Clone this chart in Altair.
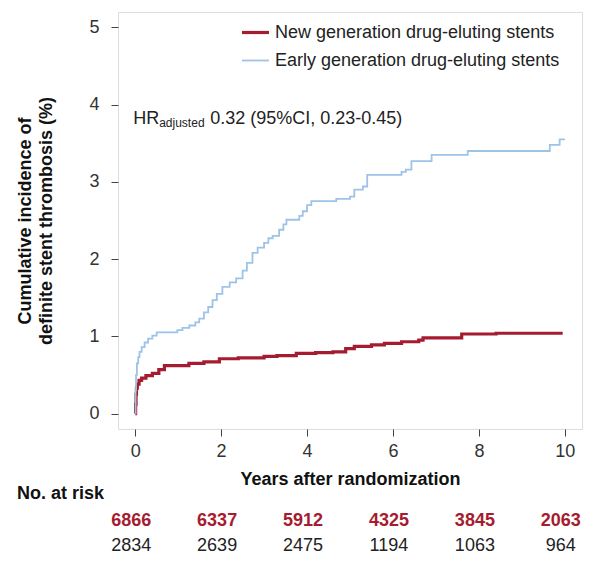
import altair as alt
import pandas as pd

# ---- data ----
groups = ["New generation drug-eluting stents", "Early generation drug-eluting stents"]
colors = ["#A51C30", "#9DC3E6"]

new_x = [0, 0.01, 0.02, 0.03, 0.05, 0.09, 0.15, 0.25, 0.4, 0.55, 0.68, 1.25, 1.6, 1.96, 2.4,
         3.0, 3.3, 3.75, 4.2, 4.6, 4.9, 5.1, 5.5, 5.8, 6.2, 6.6, 6.7, 7.6, 8.4, 9.95]
new_y = [0, 0.12, 0.25, 0.33, 0.38, 0.43, 0.46, 0.49, 0.52, 0.57, 0.62, 0.65, 0.67, 0.71, 0.72,
         0.74, 0.75, 0.78, 0.79, 0.80, 0.84, 0.87, 0.89, 0.91, 0.93, 0.95, 0.98, 1.03, 1.04, 1.04]

early_x = [0, 0.01, 0.02, 0.04, 0.07, 0.1, 0.15, 0.22, 0.3, 0.4, 0.5, 0.98, 1.1, 1.26, 1.4, 1.49,
           1.6, 1.7, 1.8, 1.9, 2.03, 2.2, 2.35, 2.5, 2.6, 2.73, 2.85, 3.0, 3.1, 3.2, 3.35, 3.45,
           3.52, 3.82, 3.9, 4.0, 4.1, 4.68, 5.0, 5.1, 5.3, 5.4, 6.2, 6.3, 6.43, 6.9, 7.74, 9.65,
           9.88, 10.0]
early_y = [0, 0.3, 0.5, 0.65, 0.73, 0.8, 0.86, 0.92, 0.97, 1.01, 1.05, 1.08, 1.11, 1.14, 1.18, 1.23,
           1.31, 1.38, 1.47, 1.55, 1.64, 1.7, 1.75, 1.85, 1.95, 2.08, 2.15, 2.21, 2.27, 2.3, 2.38, 2.45,
           2.51, 2.56, 2.62, 2.7, 2.75, 2.78, 2.81, 2.9, 2.94, 3.09, 3.13, 3.16, 3.27, 3.35, 3.4, 3.48,
           3.55, 3.55]

risk_years = [0, 2, 4, 6, 8, 10]
risk_new = [6866, 6337, 5912, 4325, 3845, 2063]
risk_early = [2834, 2639, 2475, 1194, 1063, 964]

x_ticks = [0, 2, 4, 6, 8, 10]
y_ticks = [0, 1, 2, 3, 4, 5]

hr_text = ["HR", "adjusted", "0.32 (95%CI, 0.23-0.45)"]

# ---- layout constants (positions in data units) ----
HR_X, HR_Y = 0.0, 3.75
ROW_LABEL_X, ROW_LABEL_Y = -2.75, -1.04
ROW_NEW_Y, ROW_EARLY_Y = -1.39, -1.72

FONT = "Liberation Sans"

curves = pd.concat([
    pd.DataFrame({"t": new_x, "inc": new_y, "group": groups[0], "o": range(len(new_x))}),
    pd.DataFrame({"t": early_x, "inc": early_y, "group": groups[1], "o": range(len(early_x))}),
])

xscale = alt.Scale(domain=[-0.4, 10.4], nice=False, zero=False)
yscale = alt.Scale(domain=[-0.2, 5.2], nice=False, zero=False)

legend_props = dict(
    title=None, orient="none", legendX=122, legendY=5, symbolType="stroke",
    symbolSize=729, labelFontSize=18, labelColor="#222", labelFont=FONT,
    labelLimit=0, labelOffset=4, rowPadding=4, padding=0,
)

lines = alt.Chart(curves).mark_line(interpolate="step-after").encode(
    x=alt.X("t:Q", scale=xscale,
            axis=alt.Axis(values=x_ticks, title="Years after randomization", domain=False,
                          grid=False, tickSize=7, tickColor="#444", labelFontSize=18,
                          labelColor="#333", labelPadding=6, labelFont=FONT, format="d",
                          titleFontSize=18, titleFontWeight="bold", titleColor="#111",
                          titlePadding=10, titleFont=FONT, labelFlush=False)),
    y=alt.Y("inc:Q", scale=yscale,
            axis=alt.Axis(values=y_ticks, title=["Cumulative incidence of", "definite stent thrombosis (%)"],
                          domain=False, grid=False, tickSize=7, tickColor="#444", labelFontSize=18,
                          labelColor="#333", labelPadding=12, labelFont=FONT, format="d",
                          titleFontSize=18, titleFontWeight="bold", titleColor="#111",
                          titlePadding=33, titleFont=FONT, titleLineHeight=21)),
    color=alt.Color("group:N", scale=alt.Scale(domain=groups, range=colors),
                    sort=groups, legend=alt.Legend(**legend_props)),
    strokeWidth=alt.StrokeWidth("group:N", scale=alt.Scale(domain=groups, range=[3.2, 1.8]),
                                sort=groups, legend=alt.Legend(**legend_props)),
    order="o:Q",
)

hr_df = pd.DataFrame({"t": [HR_X], "inc": [HR_Y]})
hr_base = alt.Chart(hr_df).encode(x=alt.X("t:Q", scale=xscale), y=alt.Y("inc:Q", scale=yscale))
hr1 = hr_base.mark_text(text=hr_text[0], align="left", baseline="alphabetic", fontSize=18,
                        font=FONT, color="#222", dx=-2)
hr2 = hr_base.mark_text(text=hr_text[1], align="left", baseline="alphabetic", fontSize=12,
                        font=FONT, color="#222", dx=24, dy=3)
hr3 = hr_base.mark_text(text=hr_text[2], align="left", baseline="alphabetic", fontSize=18,
                        font=FONT, color="#222", dx=75)

risk_df = pd.DataFrame({"t": risk_years, "new": risk_new, "early": risk_early})
risk_base = alt.Chart(risk_df).encode(x=alt.X("t:Q", scale=xscale))
risk1 = risk_base.mark_text(align="center", baseline="middle", fontSize=18, font=FONT,
                            fontWeight="bold", color="#A51C30", dx=-4).encode(
    y=alt.datum(ROW_NEW_Y, scale=yscale), text="new:Q")
risk2 = risk_base.mark_text(align="center", baseline="middle", fontSize=18, font=FONT,
                            color="#222", dx=-4).encode(
    y=alt.datum(ROW_EARLY_Y, scale=yscale), text="early:Q")

lab_df = pd.DataFrame({"t": [ROW_LABEL_X], "inc": [ROW_LABEL_Y], "s": ["No. at risk"]})
risk_lab = alt.Chart(lab_df).mark_text(align="left", baseline="middle", fontSize=18, font=FONT,
                                       fontWeight="bold", color="#111").encode(
    x=alt.X("t:Q", scale=xscale), y=alt.Y("inc:Q", scale=yscale), text="s:N")

chart = alt.layer(lines, hr1, hr2, hr3, risk1, risk2, risk_lab).properties(
    width=464, height=417,
    autosize=alt.AutoSizeParams(type="none"),
    padding={"left": 110, "top": 4, "right": 3, "bottom": 127},
).configure_view(stroke="#444", strokeWidth=1.2).configure(font=FONT)

chart.save("out.html", embed_options={"renderer": "svg", "actions": False})
